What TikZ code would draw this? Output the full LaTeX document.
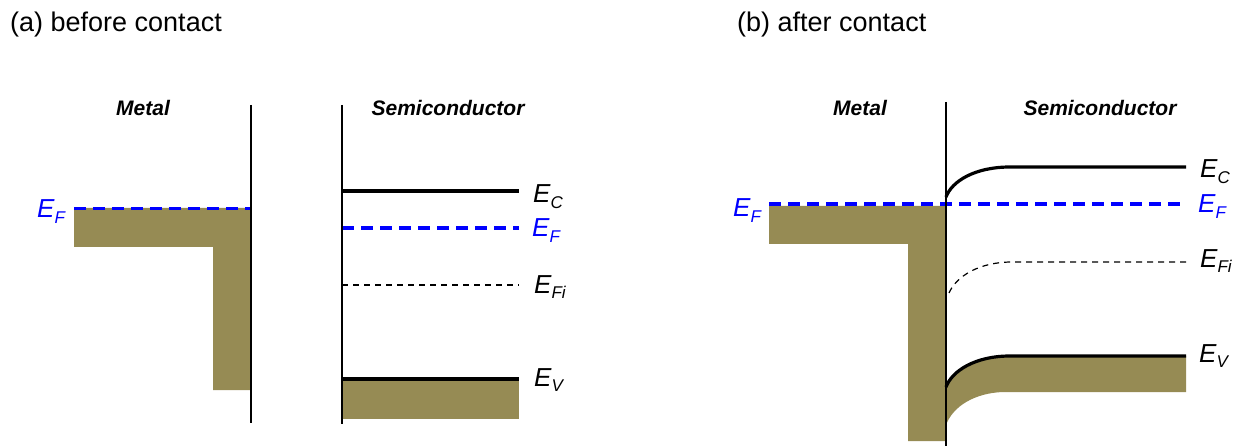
\documentclass[tikz,border=0pt]{standalone}
\usepackage{fontspec}
\setmainfont{Liberation Sans}
\definecolor{band}{RGB}{150,139,84}
\definecolor{efblue}{RGB}{0,0,255}
\newcommand{\lev}[1]{{\fontsize{26}{30}\selectfont\itshape E\raisebox{-5.5pt}{\fontsize{17}{20}\selectfont #1}}}
\tikzset{
  bandfill/.style={fill=band, draw=none},
  iface/.style={draw=black, line width=2pt},
  level/.style={draw=black, line width=3.2pt},
  fermi/.style={draw=efblue, line width=3.2pt, dash pattern=on 12pt off 7pt},
  intrinsic/.style={draw=black, line width=1.2pt, dash pattern=on 6pt off 5pt},
  lbl/.style={anchor=base west, inner sep=0pt},
  side/.style={font=\fontsize{21}{25}\selectfont\bfseries\itshape, inner sep=0pt},
  title/.style={anchor=base west, inner sep=0pt, font=\fontsize{27}{32}\selectfont}
}
\begin{document}
\begin{tikzpicture}[x=1pt,y=-1pt]
\useasboundingbox (0,0) rectangle (1236,446);
% titles
\node[title] (ta) at (10,32) {(a) before contact};
\node[title] (tb) at (737,32) {(b) after contact};
% ---------- panel (a) ----------
\node[side] (ma) at (143,108) {Metal};
\node[side] (sa) at (448,108) {Semiconductor};
\fill[band] (74,208) -- (251,208) -- (251,390) -- (213,390) -- (213,247) -- (74,247) -- cycle;
\fill[band] (342,379) -- (519,379) -- (519,419) -- (342,419) -- cycle;
\coordinate (ifa1) at (251,105); \coordinate (ifa2) at (251,423);
\coordinate (ifb1) at (342,105); \coordinate (ifb2) at (342,424);
\draw[fermi] (74,208.5) -- (251,208.5);
\draw[level] (342,191) -- (519,191);
\draw[fermi] (342,228) -- (519,228);
\draw[intrinsic] (342,285) -- (519,285);
\draw[level] (342,379) -- (519,379);
\draw[iface] (ifa1) -- (ifa2);
\draw[iface] (ifb1) -- (ifb2);
\node[lbl, text=efblue] (efa) at (37,218) {\lev{F}};
\node[lbl] (eca) at (533,203) {\lev{C}};
\node[lbl, text=efblue] (efa2) at (532,237) {\lev{F}};
\node[lbl] (efia) at (534,293) {\lev{Fi}};
\node[lbl] (eva) at (534,386) {\lev{V}};
% ---------- panel (b) ----------
\node[side] (mb) at (860,108) {Metal};
\node[side] (sb) at (1100,108) {Semiconductor};
\fill[band] (769,206) -- (946,206) -- (946,441) -- (908,441) -- (908,244) -- (769,244) -- cycle;
\fill[band] (946,387) .. controls (952,371) and (975,356) .. (1010,356) -- (1186,356) -- (1186,392) -- (1003,392) .. controls (975,393) and (953,406) .. (946,425) -- cycle;
\draw[fermi] (769,204) -- (1186,204);
\draw[level] (946,197) .. controls (952,181) and (975,167) .. (1010,167) -- (1186,167);
\draw[intrinsic] (949,293) .. controls (956,277) and (978,262) .. (1012,262) -- (1186,262);
\draw[level] (946,387) .. controls (952,371) and (975,356) .. (1010,356) -- (1186,356);
\coordinate (ifc1) at (946,102); \coordinate (ifc2) at (946,446);
\draw[iface] (ifc1) -- (ifc2);
\node[lbl, text=efblue] (efb) at (733,217) {\lev{F}};
\node[lbl] (ecb) at (1200,178) {\lev{C}};
\node[lbl, text=efblue] (efb2) at (1198,213) {\lev{F}};
\node[lbl] (efib) at (1200,267) {\lev{Fi}};
\node[lbl] (evb) at (1199,362) {\lev{V}};
\end{tikzpicture}
\end{document}
